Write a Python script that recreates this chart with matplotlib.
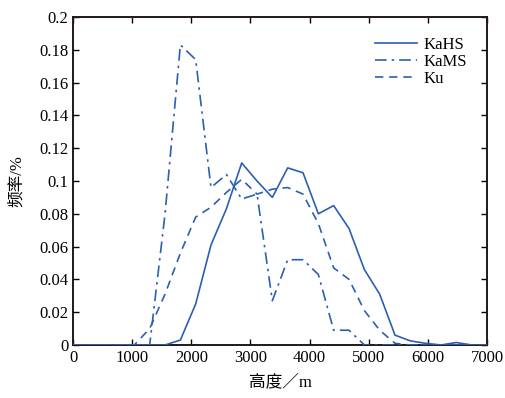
import numpy as np
import matplotlib
matplotlib.use("Agg")
import matplotlib.pyplot as plt
from matplotlib.ticker import FuncFormatter

plt.rcParams['font.family'] = ['Liberation Serif', 'Noto Sans CJK SC']

# heights (m)
height = [0, 259, 519, 778, 1037, 1296, 1556, 1815, 2074, 2333, 2593, 2852, 3111, 3370,
          3630, 3889, 4148, 4407, 4667, 4926, 5185, 5444, 5704, 5963, 6222, 6481, 6741, 7000]

kahs = [0, 0, 0, 0, 0, 0, 0, 0.003, 0.025, 0.061, 0.083, 0.111, 0.100, 0.090,
        0.108, 0.105, 0.080, 0.085, 0.071, 0.046, 0.031, 0.006, 0.0025, 0.001, 0, 0.0015, 0, 0]
kams = [0, 0, 0, 0, 0, 0, 0.080, 0.183, 0.174, 0.096, 0.104, 0.089, 0.092, 0.027,
        0.052, 0.052, 0.043, 0.009, 0.009, 0, 0, 0, 0, 0, 0, 0, 0, 0]
ku = [0, 0, 0, 0, 0, 0.010, 0.031, 0.056, 0.078, 0.084, 0.093, 0.101, 0.092, 0.095,
      0.096, 0.092, 0.074, 0.047, 0.040, 0.021, 0.009, 0.001, 0, 0, 0, 0, 0, 0]

c = '#2b5fb4'

fig = plt.figure(figsize=(5.05, 3.98), dpi=100)
ax = fig.add_axes([0.1446, 0.1332, 0.8198, 0.8241])

ax.plot(height, kahs, color=c, lw=1.2, label='KaHS', zorder=3)
ax.plot(height, kams, color=c, lw=1.2, linestyle=(0, (7, 3, 1.5, 3)), label='KaMS', zorder=3)
ax.plot(height, ku, color=c, lw=1.2, linestyle=(0, (5, 3.5)), label='Ku', zorder=3)

ax.set_xlim(0, 7000)
ax.set_ylim(0, 0.2)
ax.set_xticks(np.arange(0, 7001, 1000))
ax.set_yticks(np.arange(0, 0.201, 0.02))
ax.yaxis.set_major_formatter(FuncFormatter(lambda v, p: '%g' % round(v, 2)))
ax.tick_params(direction='in', top=True, right=True, labelsize=12, length=4, width=1)
for s in ax.spines.values():
    s.set_linewidth(1.4)
    s.set_color('#231815')

ax.set_xlabel('高度／m', fontsize=12, labelpad=6)
ax.set_ylabel('频率/%', fontsize=12, labelpad=10)

ax.legend(loc='upper right', frameon=False, fontsize=12, handlelength=2.5,
          labelspacing=0.05, borderaxespad=0.8, handletextpad=0.4)

fig.savefig('out.png', dpi=100)
